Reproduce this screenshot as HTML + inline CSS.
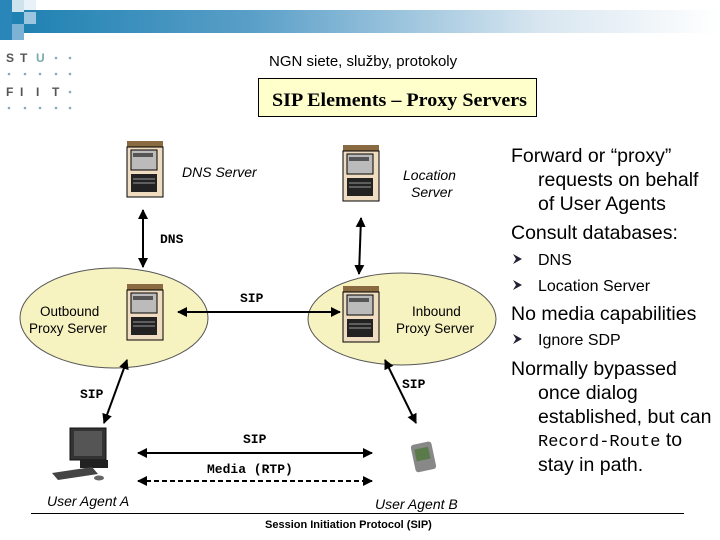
<!DOCTYPE html>
<html><head><meta charset="utf-8"><style>
html,body{margin:0;padding:0;background:#fff;}
svg{display:block;}
.s{font-family:"Liberation Sans",sans-serif;}
.m{font-family:"Liberation Mono",monospace;font-weight:bold;font-size:13px;}
.i{font-family:"Liberation Sans",sans-serif;font-style:italic;font-size:14px;}
</style></head><body>
<svg width="720" height="540" viewBox="0 0 720 540" xmlns="http://www.w3.org/2000/svg">
<defs>
<linearGradient id="g" x1="0" x2="1" y1="0" y2="0">
<stop offset="0" stop-color="#1a7fb0"/><stop offset="0.35" stop-color="#5a9fc8"/><stop offset="0.75" stop-color="#d8e6f0"/><stop offset="1" stop-color="#fff"/>
</linearGradient>
<marker id="a" viewBox="0 0 10 10" refX="9" refY="5" markerWidth="5" markerHeight="5" orient="auto-start-reverse"><path d="M0,0L10,5L0,10z" fill="#000"/></marker>
<g id="srv">
<rect x="0" y="0" width="36" height="6" fill="#8a6a40"/>
<rect x="0" y="6" width="36" height="50" fill="#f0dcc0" stroke="#000"/>
<rect x="4" y="9" width="26" height="20" fill="#bbb" stroke="#000"/>
<rect x="6" y="12" width="20" height="4" fill="#555"/>
<rect x="4" y="33" width="26" height="18" fill="#222"/>
<line x1="6" y1="38" x2="28" y2="38" stroke="#999"/><line x1="6" y1="42" x2="28" y2="42" stroke="#999"/>
</g>
</defs>
<rect x="0" y="10" width="720" height="23" fill="url(#g)"/>
<rect x="0" y="0" width="12" height="40" fill="#2a86b8"/>
<rect x="12" y="0" width="12" height="12" fill="#cfe3ef"/>
<rect x="24" y="12" width="12" height="12" fill="#9cc6df"/>
<rect x="24" y="0" width="12" height="10" fill="#e8f2f8"/>
<rect x="12" y="24" width="12" height="16" fill="#7cb3d4"/>
<g class="s" font-size="12" fill="#555" font-weight="bold">
<text x="6" y="62">S</text><text x="20" y="62">T</text><text x="36" y="62" fill="#7aa">U</text>
<text x="6" y="96">F</text><text x="20" y="96">I</text><text x="36" y="96">I</text><text x="52" y="96">T</text>
</g>
<g fill="#8ab">
<circle cx="56" cy="58" r="1.3"/><circle cx="70" cy="58" r="1.3"/>
<circle cx="9" cy="74" r="1.3"/><circle cx="25" cy="74" r="1.3"/><circle cx="40" cy="74" r="1.3"/><circle cx="56" cy="74" r="1.3"/><circle cx="70" cy="74" r="1.3"/>
<circle cx="70" cy="92" r="1.3"/>
<circle cx="9" cy="108" r="1.3"/><circle cx="25" cy="108" r="1.3"/><circle cx="40" cy="108" r="1.3"/><circle cx="56" cy="108" r="1.3"/><circle cx="70" cy="108" r="1.3"/>
</g>
<text x="269" y="66" class="s" font-size="15">NGN siete, služby, protokoly</text>
<rect x="258.5" y="78.5" width="278" height="38" fill="#ffffcc" stroke="#000"/>
<text x="272" y="106" font-family="Liberation Serif,serif" font-weight="bold" font-size="19" textLength="255" lengthAdjust="spacingAndGlyphs">SIP Elements – Proxy Servers</text>

<ellipse cx="114" cy="318" rx="94" ry="50" fill="#f7f3c0" stroke="#555"/>
<ellipse cx="402" cy="319" rx="94" ry="46" fill="#f7f3c0" stroke="#555"/>
<use href="#srv" x="127" y="141"/>
<use href="#srv" x="343" y="145"/>
<use href="#srv" x="127" y="284"/>
<use href="#srv" x="343" y="286"/>

<g stroke="#000" stroke-width="2" fill="none">
<line x1="143" y1="210" x2="143" y2="267" marker-start="url(#a)" marker-end="url(#a)"/>
<line x1="361" y1="218" x2="359" y2="274" marker-start="url(#a)" marker-end="url(#a)"/>
<line x1="178" y1="312" x2="340" y2="312" marker-start="url(#a)" marker-end="url(#a)"/>
<line x1="127" y1="360" x2="104" y2="423" marker-start="url(#a)" marker-end="url(#a)"/>
<line x1="385" y1="360" x2="416" y2="423" marker-start="url(#a)" marker-end="url(#a)"/>
<line x1="138" y1="453" x2="372" y2="453" marker-start="url(#a)" marker-end="url(#a)"/>
<line x1="138" y1="481" x2="372" y2="481" stroke-dasharray="5,3" marker-start="url(#a)" marker-end="url(#a)"/>
</g>

<text x="182" y="177" class="i">DNS Server</text>
<text x="403" y="180" class="i">Location</text><text x="411" y="197" class="i">Server</text>
<text x="40" y="316" class="s" font-size="13.5">Outbound</text><text x="29" y="333" class="s" font-size="13.5">Proxy Server</text>
<text x="412" y="316" class="s" font-size="13.5">Inbound</text><text x="396" y="333" class="s" font-size="13.5">Proxy Server</text>
<text x="160" y="243" class="m">DNS</text>
<text x="240" y="302" class="m">SIP</text>
<text x="80" y="398" class="m">SIP</text>
<text x="402" y="388" class="m">SIP</text>
<text x="243" y="443" class="m">SIP</text>
<text x="207" y="473" class="m">Media (RTP)</text>

<rect x="70" y="428" width="36" height="32" fill="#333" stroke="#111"/>
<rect x="74" y="431" width="28" height="25" fill="#555"/>
<rect x="80" y="460" width="28" height="8" fill="#222"/>
<path d="M52 473 L92 467 L98 474 L58 480 Z" fill="#444"/>
<ellipse cx="99" cy="478" rx="5" ry="2.5" fill="#666"/>
<rect x="413" y="443" width="21" height="28" rx="3" fill="#888" transform="rotate(-12 423 457)"/>
<rect x="416" y="448" width="14" height="12" fill="#5a7a4a" transform="rotate(-12 423 457)"/>

<text x="47" y="506" class="i">User Agent A</text>
<text x="375" y="509" class="i">User Agent B</text>
<line x1="31" y1="513.5" x2="684" y2="513.5" stroke="#000"/>
<text x="265" y="528" class="s" font-size="11" font-weight="bold">Session Initiation Protocol (SIP)</text>

<g class="s" font-size="19.5">
<text x="511" y="162">Forward or “proxy”</text>
<text x="538" y="186">requests on behalf</text>
<text x="538" y="210">of User Agents</text>
<text x="511" y="239">Consult databases:</text>
<text x="511" y="320">No media capabilities</text>
<text x="511" y="375">Normally bypassed</text>
<text x="538" y="399">once dialog</text>
<text x="538" y="423">established, but can</text>
<text x="538" y="446"><tspan font-family="Liberation Mono,monospace" font-size="17">Record-Route</tspan> to</text>
<text x="538" y="471">stay in path.</text>
</g>
<g class="s" font-size="16">
<text x="538" y="265">DNS</text>
<text x="538" y="291">Location Server</text>
<text x="538" y="345">Ignore SDP</text>
</g>
<g fill="#223">
<path d="M513 254 L522 259 L513 264 L516 259Z"/>
<path d="M513 280 L522 285 L513 290 L516 285Z"/>
<path d="M513 334 L522 339 L513 344 L516 339Z"/>
</g>
</svg>
</body></html>
